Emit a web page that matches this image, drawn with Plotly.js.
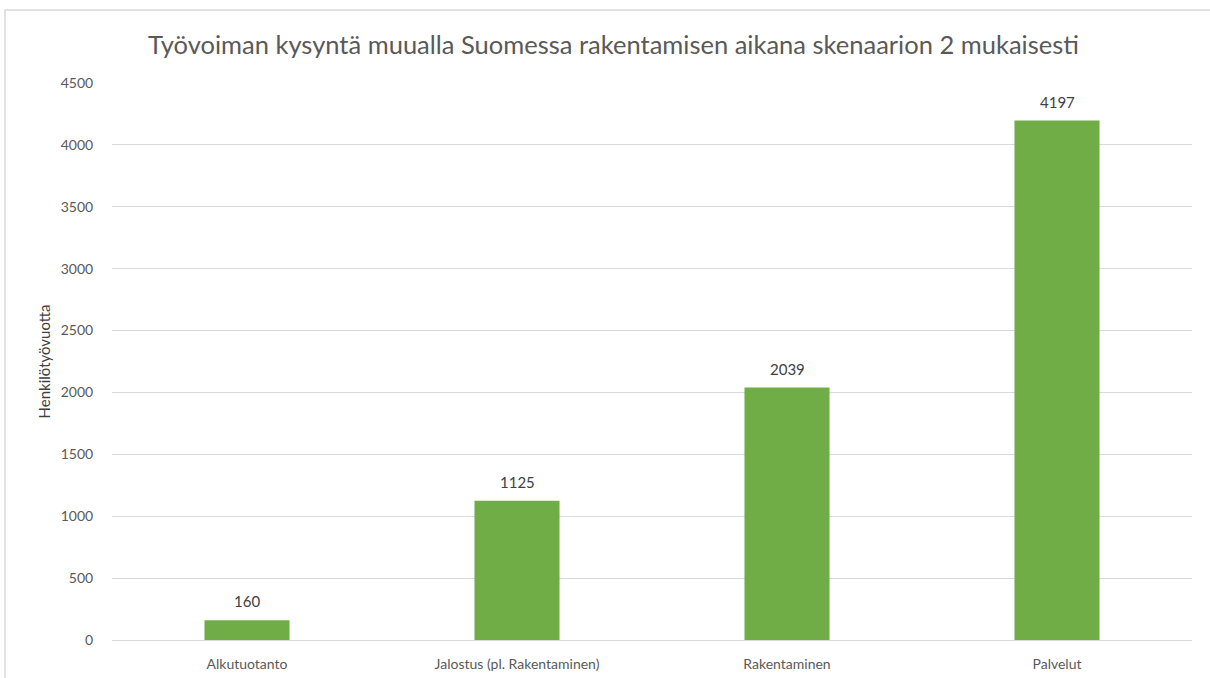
<!DOCTYPE html>
<html><head><meta charset="utf-8">
<script src="https://cdn.plot.ly/plotly-3.0.1.min.js"></script>
<style>html,body{margin:0;padding:0;background:#fff}#c{width:1210px;height:678px}</style>
</head><body><div id="c"></div>
<script>
const categories = ["Alkutuotanto", "Jalostus (pl. Rakentaminen)", "Rakentaminen", "Palvelut"];
const values = [160, 1125, 2039, 4197];
const yTicks = [0, 500, 1000, 1500, 2000, 2500, 3000, 3500, 4000, 4500];

const L = 112, R = 1192, T = 83, B = 640;
const W = R - L, H = B - T;
const px = p => (p - L) / W;
const py = p => (B - p) / H;
const FONT = "Lato, 'Open Sans', sans-serif";

const trace = {
  type: "bar",
  x: categories,
  y: values,
  marker: {color: "#70AD47"},
  hoverinfo: "x+y"
};

const labels = categories.map((c, i) => ({
  x: c, y: values[i], xref: "x", yref: "y",
  text: String(values[i]), showarrow: false,
  yanchor: "bottom", yshift: 8,
  font: {family: FONT, size: 15, color: "#404040"}
}));

const layout = {
  width: 1210, height: 678,
  margin: {l: L, r: 1210 - R, t: T, b: 678 - B, pad: 0},
  paper_bgcolor: "#fff", plot_bgcolor: "#fff",
  font: {family: FONT, color: "#595959"},
  bargap: 0.685,
  showlegend: false,
  title: {text: "Työvoiman kysyntä muualla Suomessa rakentamisen aikana skenaarion 2 mukaisesti",
    font: {size: 25.5, color: "#595959"}, x: 0.507, xanchor: "center", y: 1 - 45/678, yanchor: "middle"},
  xaxis: {showgrid: false, zeroline: false, showline: false, ticks: "outside", ticklen: 11, tickcolor: "rgba(0,0,0,0)",
    tickfont: {size: 14, color: "#595959"}},
  yaxis: {range: [0, 4500], tickvals: yTicks, ticktext: yTicks.map(String),
    showgrid: true, gridcolor: "#D9D9D9", gridwidth: 1, zeroline: true, zerolinecolor: "#D9D9D9", zerolinewidth: 1,
    showline: false, ticks: "outside", ticklen: 15, tickcolor: "rgba(0,0,0,0)",
    tickfont: {size: 14, color: "#595959"},
    title: {text: "Henkilötyövuotta", font: {size: 15, color: "#404040"}, standoff: 6}},
  annotations: labels,
  shapes: [{type: "rect", xref: "paper", yref: "paper",
    x0: px(5), x1: px(1260), y0: py(720), y1: py(10),
    line: {color: "#D9D9D9", width: 1.5}, fillcolor: "rgba(0,0,0,0)", layer: "below"}]
};

Plotly.newPlot("c", [trace], layout, {displayModeBar: false, staticPlot: true});
</script></body></html>
